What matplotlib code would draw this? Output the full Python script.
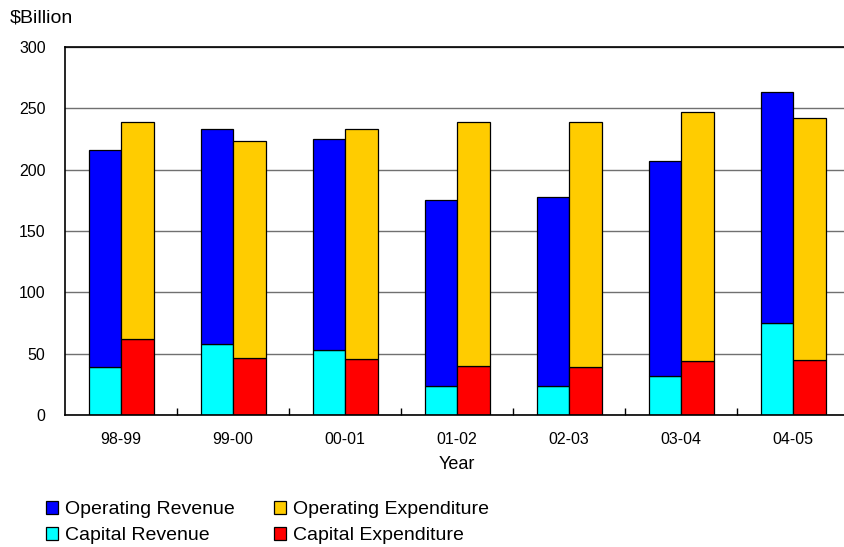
import numpy as np
import matplotlib.pyplot as plt

plt.rcParams['font.family'] = ['Liberation Sans', 'DejaVu Sans']

# 数据 ($Billion)
years = ['98-99', '99-00', '00-01', '01-02', '02-03', '03-04', '04-05']
cap_rev = [39, 58, 53.5, 23.5, 23.5, 32, 75.5]
op_rev = [177, 175, 171.5, 152, 154, 175, 187.5]
cap_exp = [62, 46.5, 46, 40, 39, 44.5, 45]
op_exp = [177, 177, 187, 199, 200, 202.5, 197]

x = np.arange(len(years))
w = 0.29

fig = plt.figure(figsize=(8.45, 5.47), dpi=100)
# 右边超出画布一点，和原图一样被截掉
ax = fig.add_axes([0.077, 0.241, 0.928, 0.673])

ax.set_axisbelow(True)
ax.yaxis.grid(True, color='#707070', lw=1)

ax.bar(x - w/2, cap_rev, w, color='#00FFFF', edgecolor='black', lw=0.9, label='Capital Revenue')
ax.bar(x - w/2, op_rev, w, bottom=cap_rev, color='#0000FF', edgecolor='black', lw=0.9, label='Operating Revenue')
ax.bar(x + w/2, cap_exp, w, color='#FF0000', edgecolor='black', lw=0.9, label='Capital Expenditure')
ax.bar(x + w/2, op_exp, w, bottom=cap_exp, color='#FFCC00', edgecolor='black', lw=0.9, label='Operating Expenditure')

ax.set_xlim(-0.5, 6.5)
ax.set_ylim(0, 300)
ax.set_yticks(range(0, 301, 50))
ax.set_xticks(x)
ax.set_xticklabels(years)
ax.set_xticks(np.arange(0.5, 6.5, 1), minor=True)
ax.tick_params(axis='x', which='major', length=0, pad=12, labelsize=11.5)
ax.tick_params(axis='x', which='minor', direction='in', length=5, width=1)
ax.tick_params(axis='y', length=0, pad=14, labelsize=11.5)

for s in ['left', 'bottom', 'top']:
    ax.spines[s].set_color('black')
    ax.spines[s].set_linewidth(1.2)
ax.spines['right'].set_visible(False)

ax.set_xlabel('Year', fontsize=13, labelpad=6.5)
fig.text(0.012, 0.967, '$Billion', fontsize=14, va='center', ha='left')

h, l = ax.get_legend_handles_labels()
order = [1, 0, 3, 2]
fig.legend([h[i] for i in order], [l[i] for i in order], ncol=2,
           loc='upper left', bbox_to_anchor=(0.054, 0.084), frameon=False,
           fontsize=14, handlelength=0.65, handleheight=0.65, handletextpad=0.35,
           columnspacing=2.0, labelspacing=0.42, borderpad=0, borderaxespad=0)

fig.savefig('out.png', dpi=100)
